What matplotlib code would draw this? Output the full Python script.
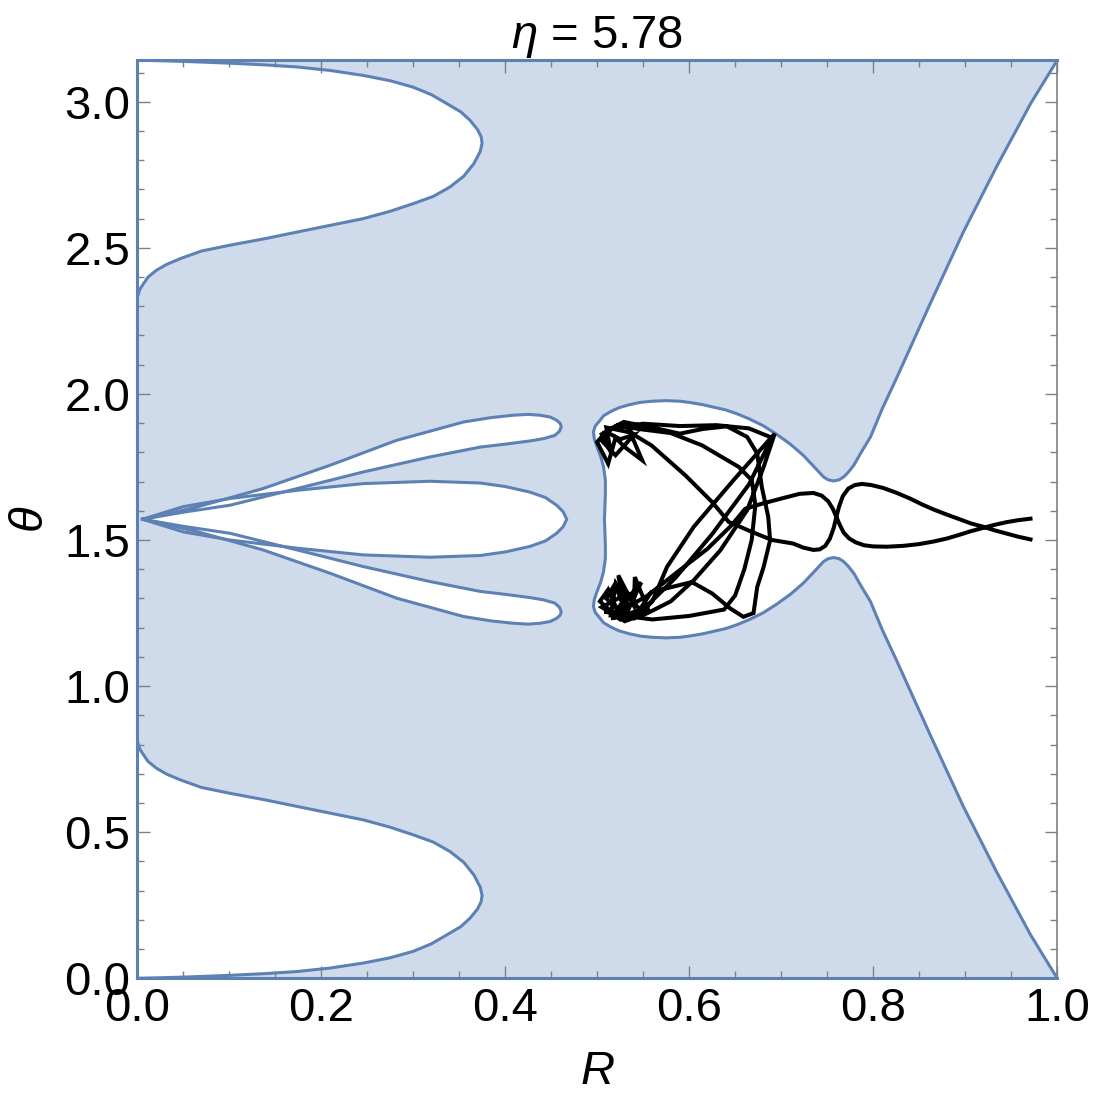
import matplotlib.pyplot as plt
from matplotlib.ticker import MultipleLocator
import numpy as np

plt.rcParams['font.family'] = ['Liberation Sans', 'DejaVu Sans']
plt.rcParams['mathtext.fontset'] = 'custom'
plt.rcParams['mathtext.it'] = 'Liberation Sans:italic'
plt.rcParams['mathtext.rm'] = 'Liberation Sans'

fill_color = '#cfdbea'
edge_color = '#5e81b5'
frame_color = '#808080'
PI = np.pi

# top-left white lobe (starts at the top-left corner, returns to the left edge)
tl_R = [0.000, 0.030, 0.060, 0.101, 0.140, 0.174, 0.210, 0.246, 0.275, 0.300,
        0.320, 0.337, 0.352, 0.362, 0.370, 0.374, 0.375, 0.373, 0.366, 0.355,
        0.340, 0.322, 0.300, 0.275, 0.246, 0.210, 0.174, 0.140, 0.101, 0.070,
        0.047, 0.032, 0.021, 0.012, 0.007, 0.003, 0.001]
tl_theta = [3.142, 3.140, 3.137, 3.132, 3.126, 3.119, 3.107, 3.090, 3.072, 3.050,
            3.024, 2.993, 2.965, 2.936, 2.905, 2.880, 2.858, 2.830, 2.788, 2.745,
            2.708, 2.676, 2.651, 2.625, 2.600, 2.577, 2.554, 2.532, 2.509, 2.489,
            2.463, 2.443, 2.423, 2.400, 2.377, 2.358, 2.337]

# bottom-left white lobe
bl_R = [0.000, 0.030, 0.060, 0.101, 0.140, 0.174, 0.210, 0.246, 0.275, 0.300,
        0.320, 0.337, 0.352, 0.362, 0.370, 0.374, 0.375, 0.373, 0.366, 0.355,
        0.340, 0.322, 0.300, 0.275, 0.246, 0.210, 0.174, 0.140, 0.101, 0.070,
        0.047, 0.032, 0.021, 0.012, 0.007, 0.003, 0.001]
bl_theta = [0.000, 0.002, 0.005, 0.010, 0.016, 0.023, 0.035, 0.052, 0.070, 0.092,
            0.118, 0.149, 0.177, 0.206, 0.237, 0.262, 0.284, 0.312, 0.354, 0.397,
            0.434, 0.466, 0.491, 0.517, 0.542, 0.565, 0.588, 0.610, 0.633, 0.653,
            0.679, 0.699, 0.719, 0.742, 0.765, 0.784, 0.805]

# three thin lobes meeting at the cusp on the left
up_R = [0.006, 0.065, 0.137, 0.210, 0.282, 0.355, 0.385, 0.409, 0.425, 0.438,
        0.449, 0.456, 0.460, 0.461, 0.459, 0.454, 0.442, 0.427, 0.400, 0.373,
        0.318, 0.246, 0.174, 0.101, 0.050, 0.006]
up_theta = [1.571, 1.613, 1.676, 1.756, 1.841, 1.904, 1.919, 1.927, 1.930, 1.927,
            1.921, 1.910, 1.899, 1.887, 1.872, 1.858, 1.847, 1.839, 1.828, 1.818,
            1.784, 1.733, 1.676, 1.619, 1.595, 1.571]

mid_R = [0.006, 0.050, 0.101, 0.174, 0.246, 0.318, 0.373, 0.400, 0.427, 0.444,
         0.456, 0.463, 0.467, 0.463, 0.456, 0.444, 0.427, 0.400, 0.373, 0.318,
         0.246, 0.174, 0.101, 0.050, 0.006]
mid_theta = [1.571, 1.614, 1.642, 1.670, 1.693, 1.701, 1.695, 1.683, 1.664, 1.645,
             1.619, 1.597, 1.571, 1.545, 1.523, 1.497, 1.478, 1.459, 1.447, 1.441,
             1.449, 1.472, 1.500, 1.528, 1.571]

lo_R = [0.006, 0.065, 0.137, 0.210, 0.282, 0.355, 0.385, 0.409, 0.425, 0.438,
        0.449, 0.456, 0.460, 0.461, 0.459, 0.454, 0.442, 0.427, 0.400, 0.373,
        0.318, 0.246, 0.174, 0.101, 0.050, 0.006]
lo_theta = [1.571, 1.529, 1.466, 1.386, 1.301, 1.238, 1.223, 1.215, 1.212, 1.215,
            1.221, 1.232, 1.243, 1.255, 1.270, 1.284, 1.295, 1.303, 1.314, 1.324,
            1.358, 1.409, 1.466, 1.523, 1.547, 1.571]

# right white region: upper wedge edge, bubble, lower wedge edge
rw_R = [1.000, 0.971, 0.934, 0.898, 0.862, 0.826, 0.810, 0.797, 0.787, 0.779,
        0.773, 0.768, 0.763, 0.757, 0.751, 0.746, 0.736, 0.724, 0.710, 0.695,
        0.680, 0.665, 0.652, 0.640, 0.615, 0.602, 0.590, 0.575, 0.560, 0.547,
        0.535, 0.524, 0.515, 0.507, 0.502, 0.498, 0.496, 0.497, 0.500, 0.504,
        0.507, 0.509, 0.509, 0.508, 0.509, 0.509, 0.507, 0.504, 0.500, 0.497,
        0.496, 0.498, 0.502, 0.507, 0.515, 0.524, 0.535, 0.547, 0.560, 0.575,
        0.590, 0.602, 0.615, 0.640, 0.652, 0.665, 0.680, 0.695, 0.710, 0.724,
        0.736, 0.746, 0.751, 0.757, 0.763, 0.768, 0.773, 0.779, 0.787, 0.797,
        0.810, 0.826, 0.862, 0.898, 0.934, 0.971, 1.000]
rw_theta = [3.142, 2.993, 2.777, 2.554, 2.309, 2.058, 1.950, 1.852, 1.800, 1.756,
            1.732, 1.716, 1.706, 1.702, 1.706, 1.716, 1.750, 1.790, 1.828, 1.862,
            1.892, 1.915, 1.932, 1.945, 1.963, 1.970, 1.975, 1.977, 1.975, 1.971,
            1.963, 1.953, 1.940, 1.925, 1.905, 1.890, 1.870, 1.845, 1.818, 1.785,
            1.750, 1.705, 1.659, 1.571, 1.483, 1.437, 1.392, 1.357, 1.324, 1.297,
            1.272, 1.252, 1.237, 1.217, 1.202, 1.189, 1.179, 1.171, 1.167, 1.165,
            1.167, 1.172, 1.179, 1.197, 1.210, 1.227, 1.250, 1.280, 1.314, 1.352,
            1.392, 1.426, 1.436, 1.440, 1.436, 1.426, 1.410, 1.386, 1.342, 1.290,
            1.192, 1.084, 0.833, 0.588, 0.365, 0.149, 0.000]

# trajectory
traj_R = [0.971, 0.958, 0.945, 0.932, 0.920, 0.906, 0.893, 0.880, 0.866, 0.850,
          0.833, 0.815, 0.800, 0.790, 0.781, 0.774, 0.768, 0.764, 0.760, 0.756,
          0.751, 0.744, 0.735, 0.720, 0.704, 0.680, 0.661, 0.646, 0.620,
          0.585, 0.555, 0.530,
          0.515, 0.520, 0.530, 0.523, 0.540, 0.541, 0.555, 0.525, 0.503, 0.512,
          0.525, 0.545,
          0.560, 0.576, 0.605, 0.648, 0.693,
          0.681, 0.663, 0.634, 0.605, 0.580, 0.555,
          0.530, 0.505, 0.535, 0.518, 0.548, 0.532, 0.508, 0.540,
          0.559, 0.603, 0.625, 0.645, 0.659, 0.670, 0.674, 0.681, 0.688, 0.686,
          0.679, 0.674, 0.663, 0.641, 0.615, 0.590, 0.560, 0.529,
          0.510, 0.500, 0.512, 0.520, 0.530, 0.549, 0.536, 0.510, 0.515, 0.505,
          0.522, 0.545,
          0.580, 0.614, 0.654, 0.668, 0.672, 0.668, 0.660, 0.650, 0.638, 0.600,
          0.560, 0.530,
          0.510, 0.520, 0.535, 0.528, 0.550, 0.515,
          0.550, 0.585, 0.625, 0.665, 0.690, 0.665, 0.630, 0.590, 0.550,
          0.515, 0.505, 0.520, 0.540, 0.525, 0.510, 0.528, 0.540,
          0.559, 0.596, 0.625, 0.643, 0.668, 0.690, 0.713, 0.724, 0.735, 0.742,
          0.748, 0.753, 0.757, 0.760, 0.763, 0.767, 0.773, 0.780, 0.788, 0.798,
          0.811, 0.825, 0.840, 0.853, 0.866, 0.880, 0.893, 0.906, 0.920, 0.932,
          0.945, 0.958, 0.971]
traj_theta = [1.573, 1.568, 1.561, 1.552, 1.542, 1.530, 1.517, 1.505, 1.495, 1.486,
              1.480, 1.477, 1.478, 1.482, 1.492, 1.505, 1.525, 1.550, 1.579, 1.608,
              1.633, 1.652, 1.661, 1.658, 1.645, 1.625, 1.607, 1.550, 1.470,
              1.385, 1.310, 1.265,
              1.245, 1.345, 1.262, 1.379, 1.275, 1.373, 1.265, 1.228, 1.290, 1.330,
              1.238, 1.240,
              1.290, 1.408, 1.545, 1.704, 1.864,
              1.750, 1.602, 1.465, 1.362, 1.290, 1.250,
              1.222, 1.270, 1.320, 1.245, 1.355, 1.250, 1.255, 1.232,
              1.322, 1.356, 1.317, 1.265, 1.237, 1.250, 1.339, 1.408, 1.499, 1.579,
              1.681, 1.796, 1.853, 1.889, 1.880, 1.864, 1.885, 1.904,
              1.872, 1.835, 1.761, 1.850, 1.818, 1.773, 1.868, 1.885, 1.800, 1.862,
              1.893, 1.880,
              1.866, 1.824, 1.750, 1.705, 1.620, 1.500, 1.400, 1.310, 1.262, 1.240,
              1.228, 1.240,
              1.300, 1.352, 1.262, 1.330, 1.248, 1.232,
              1.262, 1.370, 1.520, 1.690, 1.850, 1.882, 1.893, 1.890, 1.898,
              1.880, 1.840, 1.790, 1.860, 1.845, 1.870, 1.900, 1.860,
              1.824, 1.721, 1.630, 1.562, 1.528, 1.500, 1.488, 1.474, 1.466, 1.468,
              1.480, 1.505, 1.540, 1.579, 1.615, 1.650, 1.676, 1.688, 1.692, 1.688,
              1.678, 1.662, 1.642, 1.622, 1.604, 1.587, 1.572, 1.557, 1.545, 1.533,
              1.522, 1.511, 1.502]

x_ticks = [0.0, 0.2, 0.4, 0.6, 0.8, 1.0]
y_ticks = [0.0, 0.5, 1.0, 1.5, 2.0, 2.5, 3.0]

fig = plt.figure(figsize=(11.14, 11.18), dpi=100)
ax = fig.add_axes([0.123, 0.125, 0.826, 0.821])
ax.set_xlim(0, 1)
ax.set_ylim(0, PI)
ax.set_facecolor(fill_color)

holes = [(tl_R, tl_theta), (bl_R, bl_theta), (up_R, up_theta),
         (mid_R, mid_theta), (lo_R, lo_theta), (rw_R, rw_theta)]
for xs, ys in holes:
    ax.fill(xs, ys, color='white', lw=0, zorder=1)
    ax.plot(xs, ys, color=edge_color, lw=2.2, zorder=2, solid_joinstyle='round')

ax.plot(traj_R, traj_theta, color='black', lw=2.9, zorder=3, solid_joinstyle='miter')

ax.spines['right'].set_color(frame_color)
ax.spines['right'].set_linewidth(1.2)
for side in ['left', 'top', 'bottom']:
    ax.spines[side].set_color(edge_color)
    ax.spines[side].set_linewidth(2.2)
    ax.spines[side].set_zorder(4)

ax.set_xticks(x_ticks)
ax.set_xticklabels(['%.1f' % v for v in x_ticks])
ax.set_yticks(y_ticks)
ax.set_yticklabels(['%.1f' % v for v in y_ticks])
ax.xaxis.set_minor_locator(MultipleLocator(0.05))
ax.yaxis.set_minor_locator(MultipleLocator(0.1))
ax.tick_params(which='both', direction='in', top=True, right=True,
               color=frame_color, width=1.0, labelsize=34)
ax.tick_params(which='major', length=9)
ax.tick_params(which='minor', length=5)
ax.tick_params(axis='x', pad=6)
ax.tick_params(axis='y', pad=5)

ax.set_xlabel('$R$', fontsize=34, labelpad=14)
ax.set_ylabel(r'$\theta$', fontsize=34, labelpad=8)
ax.set_title(r'$\eta$ = 5.78', fontsize=34, pad=6)

fig.savefig('out.png', dpi=100)
